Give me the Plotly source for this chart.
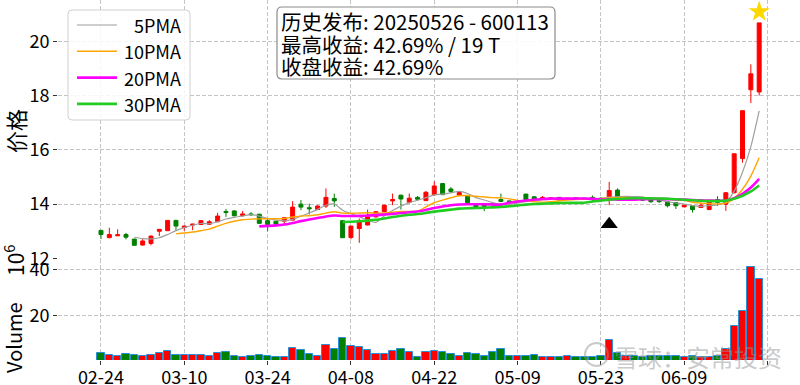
import plotly.graph_objects as go
import pandas as pd

# ---------------- data ----------------
tick_labels = ["02-24", "03-10", "03-24", "04-08", "04-22", "05-09", "05-23", "06-09", ""]
tick_index = [0, 10, 20, 30, 40, 50, 60, 70, 80]

opens = [13.03, 12.76, 12.83, 12.88, 12.71, 12.49, 12.55, 13.00, 13.02, 13.40,
         13.14, 13.23, 13.25, 13.26, 13.35, 13.73, 13.75, 13.58, 13.64, 13.63,
         13.39, 13.37, 13.37, 13.41, 14.00, 13.87, 13.80, 13.93, 14.21, 13.39,
         12.77, 13.10, 13.23, 13.53, 13.72, 14.12, 14.33, 14.07, 14.25, 14.13,
         14.35, 14.76, 14.56, 14.33, 14.31, 13.95, 13.97, 14.02, 14.17, 14.12,
         14.07, 14.37, 14.27, 14.18, 14.20, 14.25, 14.17, 14.24, 14.22, 14.25,
         14.22, 14.25, 14.52, 14.25, 14.20, 14.18, 14.17, 14.21, 14.09, 14.06,
         13.90, 13.94, 13.88, 13.80, 14.17, 14.00, 14.42, 15.68, 18.22, 18.14]
highs = [13.05, 13.13, 13.07, 12.94, 12.72, 12.71, 12.85, 13.08, 13.40, 13.42,
         13.20, 13.27, 13.40, 13.41, 13.68, 13.82, 13.78, 13.75, 13.70, 13.64,
         13.47, 13.38, 13.52, 14.11, 14.15, 14.02, 13.96, 14.58, 14.39, 13.40,
         13.20, 13.47, 13.80, 13.74, 13.98, 14.39, 14.35, 14.39, 14.30, 14.48,
         14.84, 14.78, 14.63, 14.45, 14.33, 13.97, 13.99, 14.05, 14.39, 14.13,
         14.13, 14.38, 14.30, 14.30, 14.25, 14.26, 14.24, 14.25, 14.23, 14.32,
         14.25, 14.82, 14.58, 14.30, 14.22, 14.20, 14.19, 14.22, 14.10, 14.07,
         13.97, 13.95, 14.05, 14.10, 14.29, 14.45, 15.86, 17.45, 19.16, 20.69]
lows = [12.71, 12.76, 12.83, 12.70, 12.47, 12.47, 12.48, 12.82, 13.02, 13.04,
        13.02, 13.04, 13.24, 13.23, 13.34, 13.53, 13.55, 13.53, 13.57, 13.28,
        13.00, 13.19, 13.23, 13.40, 13.78, 13.62, 13.78, 13.86, 13.90, 12.76,
        12.70, 12.57, 13.22, 13.50, 13.70, 13.96, 13.80, 14.02, 14.12, 14.12,
        14.30, 14.34, 14.40, 14.31, 14.03, 13.86, 13.74, 13.95, 14.08, 14.06,
        14.05, 14.15, 14.16, 14.17, 14.19, 14.13, 14.16, 14.19, 14.18, 14.08,
        14.15, 13.96, 14.25, 14.22, 14.15, 14.12, 14.05, 14.05, 13.88, 13.82,
        13.89, 13.69, 13.87, 13.78, 13.93, 13.75, 14.40, 15.53, 17.73, 18.01]
closes = [12.88, 12.88, 12.87, 12.78, 12.48, 12.64, 12.82, 13.07, 13.40, 13.19,
          13.19, 13.26, 13.39, 13.35, 13.56, 13.69, 13.57, 13.64, 13.61, 13.29,
          13.25, 13.26, 13.50, 13.89, 13.89, 13.83, 13.93, 14.25, 14.12, 12.76,
          13.19, 13.37, 13.59, 13.72, 13.96, 14.17, 14.19, 14.22, 14.18, 14.44,
          14.67, 14.35, 14.47, 14.43, 14.05, 13.90, 13.92, 13.98, 14.10, 14.09,
          14.11, 14.17, 14.18, 14.25, 14.23, 14.15, 14.22, 14.21, 14.20, 14.20,
          14.18, 14.50, 14.27, 14.28, 14.17, 14.15, 14.09, 14.09, 13.94, 13.94,
          13.96, 13.80, 13.96, 14.09, 14.07, 14.42, 15.86, 17.45, 18.81, 20.69]
volumes = [3.61, 2.74, 2.30, 3.17, 2.74, 2.30, 2.74, 3.46, 4.48, 2.74,
           2.74, 2.74, 2.74, 2.30, 3.46, 4.04, 2.30, 1.72, 2.30, 2.74,
           2.30, 1.72, 1.72, 5.93, 4.93, 3.17, 2.30, 6.96, 5.22, 10.28,
           6.51, 6.36, 4.93, 3.17, 3.17, 4.48, 5.22, 3.90, 2.01, 3.90,
           4.48, 3.90, 3.17, 2.30, 3.46, 3.17, 2.30, 3.90, 5.22, 2.30,
           2.30, 2.30, 2.74, 1.72, 2.01, 1.72, 2.45, 1.72, 1.72, 2.01,
           2.30, 9.25, 3.46, 2.30, 2.30, 2.01, 2.30, 2.30, 2.45, 2.30,
           1.72, 2.30, 1.72, 2.01, 2.30, 5.40, 15.35, 22.0, 41.1, 36.0]

ma_periods = [5, 10, 20, 30]
ma_names = ["5PMA", "10PMA", "20PMA", "30PMA"]
signal_index = 61   # 2025-05-26
info_lines = ["历史发布: 20250526 - 600113", "最高收益: 42.69% / 19 T", "收盘收益: 42.69%"]

# ---------------- styling ----------------
W, H = 800, 385
L, R, T, B = 58, 0, 0, 25
PW, PH = W - L - R, H - T - B
FONT = "Noto Sans CJK SC, DejaVu Sans, sans-serif"
RED, GREEN = "#FF0000", "#008000"
GRID = "#c4c4c4"
DASH = "4px,2px"


def px(x):
    return (x - L) / PW


def py(y):
    return 1 - (y - T) / PH


split = py(259)
idx = list(range(len(closes)))
up = [c >= o for o, c in zip(opens, closes)]
close_s = pd.Series(closes)

fig = go.Figure()
fig.add_trace(go.Candlestick(
    x=idx, open=opens, high=highs, low=lows, close=closes,
    increasing=dict(line=dict(color=RED, width=1), fillcolor=RED),
    decreasing=dict(line=dict(color=GREEN, width=1), fillcolor=GREEN),
    showlegend=False, xaxis="x", yaxis="y", hoverinfo="skip"))

ma_styles = [("#9e9e9e", 1.2), ("#FFA500", 1.4), ("#FF00FF", 2.6), ("#22CC22", 2.6)]
for p, name, (col, wd) in zip(ma_periods, ma_names, ma_styles):
    ma = close_s.rolling(p).mean()
    fig.add_trace(go.Scatter(x=idx, y=ma, mode="lines", name=name, showlegend=False,
                             line=dict(color=col, width=wd, shape="spline", smoothing=0.6),
                             xaxis="x", yaxis="y"))

fig.add_trace(go.Scatter(x=[signal_index], y=[lows[signal_index] * 0.95], mode="markers",
                         marker=dict(symbol="triangle-up", size=15, color="black"),
                         showlegend=False, xaxis="x", yaxis="y"))
last = len(closes) - 1
fig.add_trace(go.Scatter(x=[last], y=[highs[last] * 1.02], mode="markers",
                         marker=dict(symbol="star", size=16, color="#FFD700"),
                         showlegend=False, xaxis="x", yaxis="y"))

fig.add_trace(go.Bar(x=idx, y=volumes, width=0.88,
                     marker=dict(color=[RED if u else GREEN for u in up],
                                 line=dict(color="#2a8fd6", width=1)),
                     showlegend=False, xaxis="x2", yaxis="y2"))

xcommon = dict(range=[-5.16, 83.9], tickmode="array", tickvals=tick_index, automargin=False,
               showgrid=True, gridcolor=GRID, griddash=DASH, gridwidth=1,
               zeroline=False, showline=False, rangeslider=dict(visible=False))
ycommon = dict(showgrid=True, gridcolor=GRID, griddash=DASH, zeroline=False, automargin=False,
               ticks="outside", ticklen=4, tickcolor="#333", tickfont=dict(size=18))
fig.update_layout(
    width=W, height=H, margin=dict(l=L, r=R, t=T, b=B, autoexpand=False),
    paper_bgcolor="white", plot_bgcolor="white",
    font=dict(family=FONT, size=18, color="black"),
    boxgap=0.32, showlegend=False,
    xaxis=dict(**xcommon, anchor="y", showticklabels=False, ticks="",
               ticktext=tick_labels),
    xaxis2=dict(**xcommon, anchor="y2", matches="x", ticktext=tick_labels,
                ticks="outside", ticklen=4, tickcolor="#333", tickfont=dict(size=18),
                ticklabelstandoff=-3),
    yaxis=dict(**ycommon, domain=[split, 1], range=[11.975, 21.535],
               tickvals=[12, 14, 16, 18, 20]),
    yaxis2=dict(**ycommon, domain=[0, split], range=[0.565, 44.48], tickvals=[20, 40]),
    bargap=0,
)


def rounded_rect(x0, y0, x1, y1, r, line_color, fill, width=1.0):
    rx, ry = r / PW, r / PH
    X0, X1, Y0, Y1 = px(x0), px(x1), py(y1), py(y0)
    path = (f"M {X0+rx},{Y0} L {X1-rx},{Y0} Q {X1},{Y0} {X1},{Y0+ry} L {X1},{Y1-ry} "
            f"Q {X1},{Y1} {X1-rx},{Y1} L {X0+rx},{Y1} Q {X0},{Y1} {X0},{Y1-ry} "
            f"L {X0},{Y0+ry} Q {X0},{Y0} {X0+rx},{Y0} Z")
    fig.add_shape(type="path", path=path, xref="paper", yref="paper",
                  line=dict(color=line_color, width=width), fillcolor=fill)


# legend (drawn)
rounded_rect(68, 10, 190, 120, 4, "#d0d0d0", "rgba(255,255,255,0.85)")
for k, (name, (col, wd)) in enumerate(zip(ma_names, ma_styles)):
    yc = 25 + k * 26.3
    fig.add_shape(type="line", xref="paper", yref="paper", x0=px(77), x1=px(117),
                  y0=py(yc), y1=py(yc), line=dict(color=col, width=wd))
    fig.add_annotation(text=name, xref="paper", yref="paper", x=px(183), y=py(yc),
                       xanchor="right", yanchor="middle", showarrow=False,
                       font=dict(size=18))

# info box
rounded_rect(277, 7, 555, 79, 5, "#8c8c8c", "rgba(255,255,255,0.9)", 1.2)
for line, yc in zip(info_lines, [21, 44, 66]):
    fig.add_annotation(text=line, xref="paper", yref="paper", x=px(279), y=py(yc),
                       xanchor="left", yanchor="middle", showarrow=False,
                       font=dict(size=20.5, family=FONT))

# axis labels
fig.add_annotation(text="价格", xref="paper", yref="paper", x=px(15), y=py(131),
                   xanchor="center", yanchor="middle",
                   textangle=-90, showarrow=False, font=dict(size=22))
fig.add_annotation(text="Volume", xref="paper", yref="paper", x=px(13), y=py(338),
                   xanchor="center", yanchor="middle",
                   textangle=-90, showarrow=False, font=dict(size=20))
fig.add_annotation(text="10<sup>6</sup>", xref="paper", yref="paper", x=px(14), y=py(261),
                   xanchor="center", yanchor="middle",
                   textangle=-90, showarrow=False, font=dict(size=21))

# watermark
fig.add_shape(type="circle", xref="paper", yref="paper",
              x0=px(585), x1=px(608), y0=py(366), y1=py(343),
              line=dict(color="rgba(150,150,150,0.5)", width=2))
fig.add_annotation(text="雪球：安常投资", xref="paper", yref="paper", x=px(612), y=py(356),
                   xanchor="left", yanchor="middle", showarrow=False,
                   font=dict(size=24, color="rgba(150,150,150,0.5)"))

fig.write_html("out.html", config={"displayModeBar": False},
               post_script="document.body.style.margin='0';document.body.style.padding='0';")
